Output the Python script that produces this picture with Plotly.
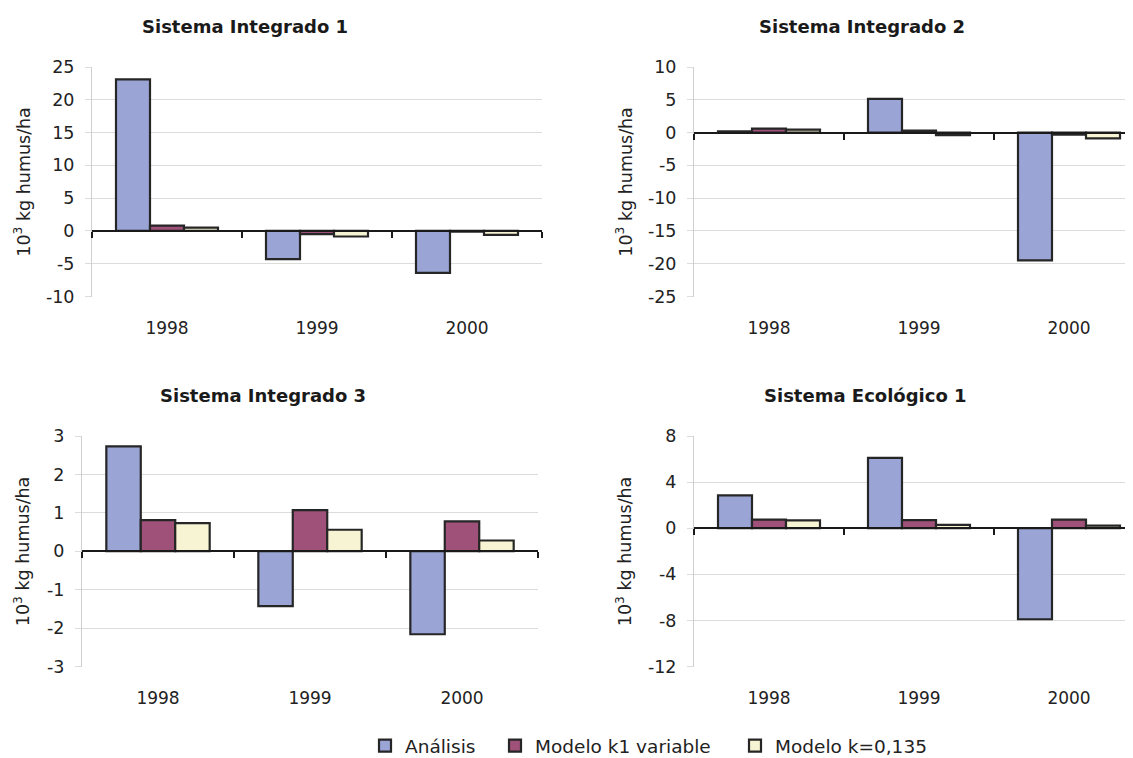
import plotly.graph_objects as go

years = ["1998", "1999", "2000"]
series_names = ["Análisis", "Modelo k1 variable", "Modelo k=0,135"]

titles = ["Sistema Integrado 1", "Sistema Integrado 2", "Sistema Integrado 3", "Sistema Ecológico 1"]

si1_analisis = [23.1, -4.3, -6.4]
si1_k1 = [0.8, -0.5, -0.1]
si1_k = [0.5, -0.85, -0.6]

si2_analisis = [0.2, 5.15, -19.5]
si2_k1 = [0.6, 0.3, -0.3]
si2_k = [0.45, -0.4, -0.9]

si3_analisis = [2.73, -1.43, -2.16]
si3_k1 = [0.81, 1.07, 0.78]
si3_k = [0.73, 0.56, 0.28]

se1_analisis = [2.85, 6.1, -7.9]
se1_k1 = [0.75, 0.7, 0.75]
se1_k = [0.68, 0.28, 0.22]

yranges = [[-10, 25], [-25, 10], [-3, 3], [-12, 8]]
ydticks = [5, 5, 1, 4]

panels = [
    [si1_analisis, si1_k1, si1_k],
    [si2_analisis, si2_k1, si2_k],
    [si3_analisis, si3_k1, si3_k],
    [se1_analisis, se1_k1, se1_k],
]

colors = ["#9AA5D5", "#A0517A", "#F6F4D2"]
W, H = 1133, 758
OFF = 8  # page body margin in the browser
FONT = "DejaVu Sans"
TXT = "#222222"


def px(v):
    return (v - OFF) / W


def py(v):
    return 1 - (v - OFF) / H


# panel geometry in screen pixels (left, right, top, bottom)
geom = [
    (92, 542, 67, 296.5),
    (694, 1144, 67, 296.5),
    (82, 538, 436, 666.5),
    (694, 1144, 436, 666.5),
]
title_pos = [(245, 27), (862, 27), (263, 395), (865, 395)]
ytitle_x = [22, 624, 22, 624]
legend_text_x = [405, 535, 775]
legend_y = 746

fig = go.Figure()
x_idx = [0, 1, 2]

layout = dict(
    width=W, height=H,
    margin=dict(l=0, r=0, t=0, b=0, autoexpand=False),
    paper_bgcolor="white", plot_bgcolor="white",
    barmode="group", bargap=0.32, bargroupgap=0,
    font=dict(family=FONT, size=17, color=TXT),
    showlegend=True,
)
for k in range(3):
    key = "legend" if k == 0 else f"legend{k + 1}"
    layout[key] = dict(
        orientation="h", x=px(legend_text_x[k] - 40), xanchor="left",
        y=py(legend_y), yanchor="middle", itemwidth=30,
        font=dict(family=FONT, size=18.5, color=TXT),
        bgcolor="rgba(0,0,0,0)", borderwidth=0,
    )

annotations = []

for p in range(4):
    i = p + 1
    xa = "x" if i == 1 else f"x{i}"
    ya = "y" if i == 1 else f"y{i}"
    for s in range(3):
        fig.add_trace(go.Bar(
            x=x_idx, y=panels[p][s], name=series_names[s],
            xaxis=xa, yaxis=ya,
            marker=dict(color=colors[s], line=dict(color="#262626", width=2.2)),
            legendgroup=series_names[s], showlegend=(p == 0),
            legend="legend" if s == 0 else f"legend{s + 1}",
            hoverinfo="skip",
        ))
    l, r, t, b = geom[p]
    cw = (r - l) / 3
    r_vis = min(r, W + OFF)
    xd = [px(l), min(px(r_vis), 1.0)]
    yd = [py(b), py(t)]
    xr = [-0.5, -0.5 + (r_vis - l) / cw]
    ymin, ymax = yranges[p]
    n = int(round((ymax - ymin) / ydticks[p]))
    yt = [ymin + j * ydticks[p] for j in range(n + 1)]
    layout[f"xaxis{i}" if i > 1 else "xaxis"] = dict(
        domain=xd, range=xr, anchor=ya, automargin=False,
        tickmode="array", tickvals=x_idx, ticktext=years,
        showline=False, showgrid=False, zeroline=False, ticks="",
        ticklabelstandoff=19, tickfont=dict(size=17, family=FONT, color=TXT),
        fixedrange=True,
    )
    layout[f"yaxis{i}" if i > 1 else "yaxis"] = dict(
        domain=yd, range=[ymin, ymax], anchor=xa, automargin=False,
        tickmode="array", tickvals=yt, ticktext=[str(v) for v in yt],
        showline=True, linecolor="#CFCFCF", linewidth=1,
        showgrid=True, gridcolor="#DCDCDC", gridwidth=1,
        zeroline=False, ticks="outside", ticklen=6, tickcolor="#DCDCDC",
        ticklabelstandoff=7, tickfont=dict(size=17.5, family=FONT, color=TXT),
        fixedrange=True,
    )
    # zero axis with category-boundary ticks
    zero_pos = yd[0] + (0 - ymin) / (ymax - ymin) * (yd[1] - yd[0])
    oi = i + 4
    layout[f"xaxis{oi}"] = dict(
        overlaying=xa, anchor="free", position=zero_pos, side="bottom",
        domain=xd, range=xr, automargin=False,
        tickmode="array", tickvals=[-0.5, 0.5, 1.5, 2.5],
        showticklabels=False, ticks="outside", ticklen=6, tickwidth=2, tickcolor="#1a1a1a",
        showline=True, linecolor="#1a1a1a", linewidth=2,
        showgrid=False, zeroline=False, fixedrange=True,
    )
    fig.add_trace(go.Scatter(x=[], y=[], xaxis=f"x{oi}", yaxis=ya, showlegend=False, hoverinfo="skip"))
    tx, ty = title_pos[p]
    annotations.append(dict(text=f"<b>{titles[p]}</b>", x=px(tx), y=py(ty), xref="paper", yref="paper",
                            xanchor="center", yanchor="middle", showarrow=False,
                            font=dict(family=FONT, size=18, color="#1a1a1a")))
    annotations.append(dict(text="10<sup>3</sup> kg humus/ha", x=px(ytitle_x[p]), y=(yd[0] + yd[1]) / 2,
                            xref="paper", yref="paper", xanchor="center", yanchor="middle",
                            textangle=-90, showarrow=False,
                            font=dict(family=FONT, size=17.5, color=TXT)))

layout["annotations"] = annotations
fig.update_layout(**layout)
fig.write_html("out.html")
